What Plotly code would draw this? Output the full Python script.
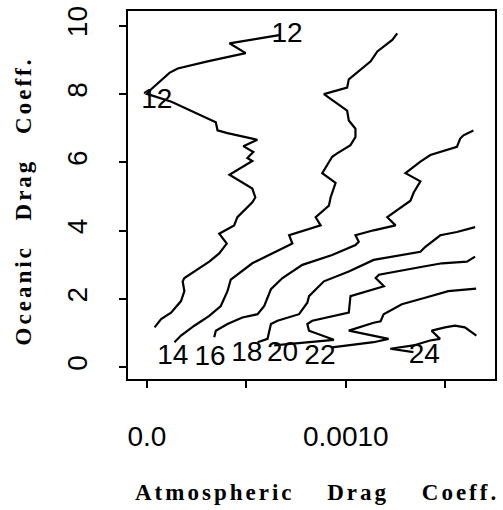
import plotly.graph_objects as go

# ---- data ----
x_tick_vals = [0.0, 0.0005, 0.0010, 0.0015]
x_tick_text = ["0.0", "", "0.0010", ""]
y_tick_vals = [0, 2, 4, 6, 8, 10]
y_tick_text = ["0", "2", "4", "6", "8", "10"]

c12_x = [0.000665, 0.000515, 0.000415, 0.0004965, 0.000305, 0.000155, 0.0001135, 0.0000215,
         0.0, 0.0001235, 0.000305, 0.0003465, 0.000355, 0.000405, 0.00053, 0.000555, 0.000485,
         0.000535, 0.000505, 0.00053, 0.000415, 0.00053, 0.000545, 0.00053, 0.000455, 0.0004385,
         0.0003635, 0.0004015, 0.0003635, 0.0003135, 0.0001885, 0.00018, 0.0001885, 0.0001715,
         0.0001215, 0.0000715, 0.0000385]
c12_y = [9.726, 9.587, 9.488, 9.199, 8.960, 8.749, 8.621, 8.142,
         8.006, 7.775, 7.275, 7.176, 6.936, 6.858, 6.697, 6.662, 6.474,
         6.301, 6.127, 6.040, 5.636, 5.231, 4.971, 4.827, 4.393, 4.153,
         3.910, 3.621, 3.332, 3.092, 2.610, 2.514, 2.225, 1.936,
         1.598, 1.408, 1.165]

c14_x = [0.0001385, 0.0001715, 0.0002385, 0.0003135, 0.0003715, 0.000405, 0.0004215, 0.000455,
         0.00053, 0.0006985, 0.0007315, 0.000715, 0.0008735, 0.0008485, 0.000915, 0.0009235,
         0.0009485, 0.0008815, 0.0009315, 0.0009565, 0.0010235, 0.0010485, 0.0010485, 0.001015,
         0.0010065, 0.00089, 0.0010065, 0.001015, 0.001125, 0.0011585, 0.0012, 0.0012335, 0.0012585]
c14_y = [0.731, 0.925, 1.214, 1.503, 1.792, 2.225, 2.564, 2.708,
         3.043, 3.526, 3.621, 3.864, 4.153, 4.393, 4.731, 4.971,
         5.396, 5.685, 6.165, 6.263, 6.503, 6.743, 6.986, 7.225,
         7.514, 7.997, 8.188, 8.431, 8.960, 9.249, 9.442, 9.587, 9.778]

c16_x = [0.0003385, 0.0003465, 0.000405, 0.00048, 0.00053, 0.0005565, 0.00059, 0.0006235,
         0.0006815, 0.0007815, 0.0009315, 0.0010485, 0.001065, 0.0010485, 0.00114, 0.00125,
         0.0012085, 0.001325, 0.0013415, 0.001375, 0.0013, 0.001375, 0.001425, 0.0015585,
         0.001575, 0.0015915, 0.0016415]
c16_y = [0.876, 1.069, 1.263, 1.454, 1.517, 1.552, 1.792, 2.283,
         2.610, 2.997, 3.286, 3.575, 3.671, 3.864, 4.009, 4.153,
         4.393, 4.876, 5.116, 5.442, 5.685, 6.020, 6.214, 6.454,
         6.697, 6.792, 6.936]

c18_x = [0.0005565, 0.0006065, 0.0006235, 0.0006565, 0.000765, 0.0008065, 0.000815, 0.00089,
         0.001015, 0.00114, 0.001375, 0.0014, 0.001475, 0.0015585, 0.00165]
c18_y = [0.731, 0.829, 1.263, 1.358, 1.552, 1.887, 2.081, 2.514,
         2.803, 3.142, 3.382, 3.526, 3.864, 3.960, 4.104]

c20_x = [0.00064, 0.00094, 0.000815, 0.0008065, 0.0008315, 0.001015, 0.0010235, 0.00114,
         0.0011915, 0.00115, 0.0011665, 0.0013915, 0.0014835, 0.0016085, 0.00165]
c20_y = [0.636, 0.801, 1.069, 1.263, 1.358, 1.598, 2.081, 2.275,
         2.370, 2.610, 2.708, 2.948, 3.043, 3.092, 3.237]

c22_x = [0.00093, 0.00114, 0.001215, 0.001015, 0.00114, 0.001175, 0.00119, 0.0012815,
         0.0013985, 0.001515, 0.001655]
c22_y = [0.578, 0.731, 0.829, 1.069, 1.301, 1.344, 1.552, 1.841,
         2.032, 2.225, 2.298]

c24_x = [0.00134, 0.0012235, 0.00134, 0.0014235, 0.0014735, 0.0014315, 0.0014985, 0.0015485,
         0.0015985, 0.0016565]
c24_y = [0.442, 0.540, 0.636, 0.780, 0.829, 1.069, 1.165, 1.214,
         1.165, 0.925]

label_text = ["12", "12", "14", "16", "18", "20", "22", "24"]
label_x = [0.000705, 0.00005, 0.00013, 0.0003175, 0.0005025, 0.0006815, 0.00087, 0.001395]
label_y = [9.731, 7.803, 0.298, 0.275, 0.396, 0.376, 0.298, 0.318]

x_title = "Atmospheric Drag Coeff."
y_title = "Oceanic Drag Coeff."

# ---- figure ----
fig = go.Figure()
line_style = dict(color="black", width=2.2)
for xs, ys in [(c12_x, c12_y), (c14_x, c14_y), (c16_x, c16_y), (c18_x, c18_y),
               (c20_x, c20_y), (c22_x, c22_y), (c24_x, c24_y)]:
    fig.add_trace(go.Scatter(x=xs, y=ys, mode="lines", line=line_style,
                             showlegend=False, hoverinfo="skip"))

fig.add_trace(go.Scatter(x=label_x, y=label_y, text=label_text, mode="text",
                         textposition="middle center",
                         textfont=dict(family="Liberation Sans, Arial", size=28, color="black"),
                         showlegend=False, hoverinfo="skip"))

axis_common = dict(showgrid=False, zeroline=False, showline=True, mirror=True,
                   linecolor="black", linewidth=2, ticks="outside", ticklen=7,
                   tickwidth=2, tickcolor="black",
                   tickfont=dict(family="Liberation Sans, Arial", size=28, color="black"))

fig.update_xaxes(range=[-0.000095, 0.00175], tickmode="array",
                 tickvals=x_tick_vals, ticktext=x_tick_text,
                 ticklabelstandoff=24, **axis_common)
fig.update_yaxes(range=[-0.347, 10.434], tickmode="array",
                 tickvals=y_tick_vals, ticktext=y_tick_text, tickangle=-90,
                 ticklabelstandoff=21, **axis_common)

title_font = dict(family="Liberation Serif, Times New Roman, serif", size=23, color="black")
fig.add_annotation(text='<b><span style="letter-spacing:3px;word-spacing:24px">' + x_title + '</span></b>',
                   xref="paper", yref="paper", x=0.516, y=0, xanchor="center", yanchor="middle",
                   yshift=-113, showarrow=False, font=title_font)
fig.add_annotation(text='<b><span style="letter-spacing:3px;word-spacing:16px">' + y_title + '</span></b>',
                   xref="paper", yref="paper", x=0, y=0.4826, xanchor="center", yanchor="middle",
                   xshift=-105, textangle=-90, showarrow=False, font=title_font)

fig.update_layout(width=503, height=510, margin=dict(l=128, r=6, t=6, b=131, pad=0),
                  plot_bgcolor="white", paper_bgcolor="white")

fig.write_html("out.html")
